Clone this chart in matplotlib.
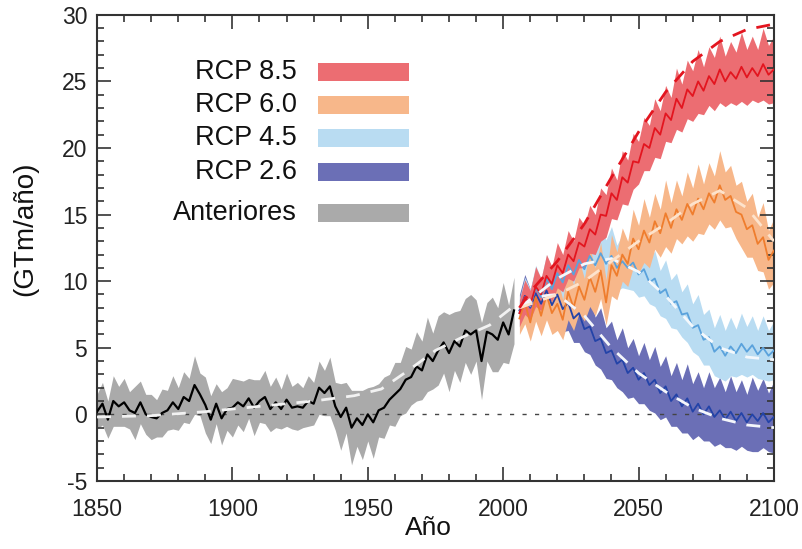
import numpy as np
import matplotlib
matplotlib.use("Agg")
import matplotlib.pyplot as plt
from matplotlib.patches import Rectangle
from matplotlib.ticker import MultipleLocator

plt.rcParams['font.family'] = ['Liberation Sans', 'DejaVu Sans']
plt.rcParams['axes.unicode_minus'] = False

# Emisiones históricas (cada 2 años)
hist_years = np.arange(1850, 2006, 2)
hist_mean = [0.2, 0.8, -0.4, 1.0, 0.6, 0.9, 0.3, 0.1, 0.9, 0.0,
             -0.2, -0.3, 0.1, 0.3, 0.9, 0.4, 1.3, 1.0, 2.2, 1.5,
             0.7, -0.4, 0.8, -0.3, 0.4, 0.5, 0.9, 0.6, 1.2, 0.5,
             1.0, 1.3, 0.4, 0.9, 0.4, 1.1, 0.5, 0.6, 0.5, 1.0,
             0.8, 2.0, 1.6, 2.1, 0.6, -0.2, 0.5, -1.0, -0.3, -0.8,
             0.0, -0.6, 0.3, 0.5, 1.1, 1.5, 1.9, 2.6, 2.8, 3.6,
             3.3, 4.5, 4.0, 4.8, 5.4, 4.6, 5.5, 5.1, 6.3, 6.0,
             6.3, 4.0, 6.2, 6.0, 5.6, 6.9, 6.0, 7.8]
hist_spread = [1.3, 1.6, 1.4, 1.9, 1.5, 1.8, 1.4, 2.0, 1.6, 1.5,
               1.7, 1.4, 1.8, 1.5, 2.0, 1.6, 1.9, 1.7, 2.2, 1.6,
               2.1, 1.8, 1.5, 2.0, 1.6, 2.2, 1.7, 1.9, 1.5, 2.1,
               1.6, 2.0, 1.7, 1.9, 1.5, 2.0, 1.6, 1.8, 1.5, 1.9,
               1.6, 2.0, 1.7, 2.2, 1.8, 2.5, 1.9, 2.8, 2.1, 2.6,
               2.0, 2.7, 2.0, 2.3, 1.9, 2.4, 2.0, 2.5, 2.1, 2.6,
               2.2, 2.8, 2.1, 2.6, 2.3, 2.9, 2.2, 2.7, 2.4, 3.0,
               2.3, 2.9, 2.2, 2.8, 2.4, 3.0, 2.2, 2.5]
hist_ref_years = [1850, 1870, 1890, 1910, 1930, 1945, 1955, 1965, 1975, 1985, 1995, 2005]
hist_ref = [-0.2, -0.1, 0.2, 0.6, 1.0, 1.4, 1.9, 3.3, 4.8, 5.8, 6.7, 8.3]

# Escenarios RCP (cada 2 años)
rcp_years = np.arange(2006, 2101, 2)

rcp85_mean = [7.6, 8.8, 8.2, 9.6, 9.0, 10.4, 9.8, 11.2, 10.6, 12.0,
              11.5, 12.9, 12.6, 13.9, 13.5, 15.0, 14.9, 16.6, 16.1, 17.8,
              17.4, 19.0, 18.9, 20.3, 20.0, 21.5, 21.0, 22.6, 22.1, 23.7,
              23.0, 24.4, 23.9, 25.0, 24.3, 25.4, 24.8, 25.9, 25.0, 25.7,
              25.2, 26.1, 25.3, 26.0, 25.4, 26.3, 25.5, 25.9]
rcp85_spread = [1.0, 1.3, 1.1, 1.5, 1.2, 1.6, 1.3, 1.7, 1.4, 1.8,
                1.5, 1.9, 1.6, 1.8, 1.5, 2.0, 1.6, 1.9, 1.5, 2.0,
                1.7, 2.1, 1.6, 2.0, 1.7, 2.2, 1.8, 2.1, 1.7, 2.3,
                1.8, 2.2, 1.9, 2.4, 1.8, 2.2, 2.0, 2.5, 1.9, 2.3,
                2.0, 2.6, 2.1, 2.4, 2.0, 2.7, 2.2, 2.5]

rcp60_mean = [7.2, 8.4, 6.9, 8.8, 7.4, 9.0, 7.6, 8.3, 7.1, 9.2,
              8.0, 9.6, 8.6, 10.3, 9.2, 10.8, 8.4, 11.2, 10.4, 12.0,
              11.3, 13.2, 12.4, 13.8, 12.9, 14.5, 13.6, 15.1, 14.0, 15.4,
              14.6, 15.8, 15.0, 16.2, 15.4, 16.6, 15.9, 17.2, 16.1, 16.4,
              15.2, 15.0, 13.9, 14.2, 12.8, 13.3, 11.6, 12.3]
rcp60_spread = [1.2, 1.6, 1.4, 1.8, 1.5, 1.9, 1.6, 2.0, 1.5, 2.1,
                1.7, 2.0, 1.6, 2.2, 1.8, 2.1, 1.7, 2.3, 1.8, 2.0,
                1.7, 2.2, 1.8, 2.4, 1.9, 2.1, 1.8, 2.5, 1.9, 2.2,
                1.8, 2.4, 2.0, 2.6, 1.9, 2.3, 2.0, 2.6, 2.1, 2.3,
                2.0, 2.5, 2.1, 2.4, 2.0, 2.6, 2.2, 2.4]

rcp45_mean = [7.6, 8.8, 8.1, 9.5, 8.8, 10.2, 9.4, 10.6, 9.9, 11.2,
              10.5, 11.6, 10.9, 11.9, 11.2, 12.1, 11.3, 11.9, 11.0, 11.5,
              11.0, 11.4, 10.5, 10.9, 9.9, 10.2, 9.1, 9.4, 8.3, 8.5,
              7.5, 7.6, 6.5, 6.7, 5.6, 5.8, 4.7, 5.1, 4.4, 5.1,
              4.6, 5.3, 4.7, 5.2, 4.5, 5.0, 4.4, 4.8]
rcp45_spread = [1.1, 1.5, 1.3, 1.7, 1.4, 1.8, 1.5, 1.9, 1.6, 2.0,
                1.7, 2.1, 1.8, 2.2, 1.7, 2.1, 1.8, 2.2, 1.7, 2.0,
                1.6, 2.1, 1.7, 2.0, 1.6, 2.1, 1.7, 2.2, 1.8, 2.1,
                1.7, 2.2, 1.8, 2.3, 1.9, 2.1, 1.8, 2.4, 1.9, 2.2,
                1.8, 2.3, 1.9, 2.2, 1.8, 2.4, 1.9, 2.2]

rcp26_mean = [7.8, 8.9, 8.0, 9.1, 8.3, 9.3, 8.2, 9.0, 7.9, 8.4,
              7.2, 7.6, 6.4, 6.6, 5.5, 5.7, 4.6, 4.8, 3.8, 4.1,
              3.1, 3.5, 2.6, 3.1, 2.2, 2.6, 1.6, 2.1, 1.0, 1.5,
              0.6, 1.2, 0.2, 0.8, 0.0, 0.6, -0.2, 0.3, -0.4, 0.2,
              -0.5, 0.1, -0.6, 0.0, -0.5, 0.1, -0.6, -0.2]
rcp26_spread = [1.2, 1.6, 1.4, 1.8, 1.5, 1.9, 1.6, 2.0, 1.7, 2.1,
                1.8, 2.2, 1.7, 2.1, 1.8, 2.3, 1.9, 2.2, 1.8, 2.4,
                1.9, 2.2, 1.8, 2.3, 1.9, 2.5, 2.0, 2.3, 1.9, 2.4,
                2.0, 2.6, 2.1, 2.4, 2.0, 2.6, 2.2, 2.5, 2.1, 2.7,
                2.2, 2.5, 2.1, 2.8, 2.3, 2.6, 2.2, 2.7]

# Trayectorias de referencia (discontinuas)
rcp85_ref_years = [2006, 2010, 2020, 2030, 2040, 2050, 2060, 2070, 2080, 2090, 2100]
rcp85_ref = [8.0, 9.2, 11.5, 14.3, 17.8, 21.2, 24.2, 26.5, 28.0, 28.9, 29.3]
rcp60_ref_years = [2006, 2020, 2030, 2040, 2050, 2060, 2070, 2080, 2090, 2100]
rcp60_ref = [8.0, 9.0, 10.0, 11.5, 13.0, 14.3, 15.8, 16.8, 15.5, 13.0]
rcp45_ref_years = [2006, 2020, 2030, 2040, 2050, 2060, 2070, 2080, 2090, 2100]
rcp45_ref = [8.0, 10.2, 11.3, 11.7, 10.7, 8.9, 6.6, 5.0, 4.3, 4.1]
rcp26_ref_years = [2006, 2015, 2020, 2030, 2040, 2050, 2060, 2070, 2080, 2090, 2100]
rcp26_ref = [8.0, 8.9, 9.0, 7.4, 5.0, 3.1, 1.7, 0.5, -0.3, -0.8, -1.0]

labels = ['RCP 8.5', 'RCP 6.0', 'RCP 4.5', 'RCP 2.6', 'Anteriores']
band_colors = ['#ec6d72', '#f7b78a', '#b9dcf2', '#6b6fb6', '#aaaaaa']
line_colors = ['#e3151f', '#ef7d2d', '#5aa2dc', '#2343a8', '#000000']
ref_colors = ['#e3151f', '#fde3cc', '#f4f8fc', '#f4f6fb', '#f2f2f2']

fig = plt.figure(figsize=(8.02, 5.49), dpi=100)
ax = fig.add_axes([0.121, 0.124, 0.844, 0.849])

dash = (0, (5, 4))

# Zona histórica
hm = np.array(hist_mean)
hs = np.array(hist_spread)
ax.fill_between(hist_years, hm - hs, hm + hs, color=band_colors[4], lw=0, zorder=1)
ax.axhline(0, color='#444444', lw=1, ls=(0, (3, 6)), zorder=2)
ax.plot(hist_years, hm, color=line_colors[4], lw=1.6, zorder=3)

# Escenarios: de menor a mayor
series = [
    (rcp26_mean, rcp26_spread, 3),
    (rcp45_mean, rcp45_spread, 2),
    (rcp60_mean, rcp60_spread, 1),
    (rcp85_mean, rcp85_spread, 0),
]
for mean, spread, i in series:
    m = np.array(mean)
    s = np.array(spread)
    ax.fill_between(rcp_years, m - s, m + s, color=band_colors[i], lw=0, zorder=1)
    ax.plot(rcp_years, m, color=line_colors[i], lw=1.3, zorder=3)

refs = [
    (hist_ref_years, hist_ref, 4),
    (rcp26_ref_years, rcp26_ref, 3),
    (rcp45_ref_years, rcp45_ref, 2),
    (rcp60_ref_years, rcp60_ref, 1),
    (rcp85_ref_years, rcp85_ref, 0),
]
for yrs, vals, i in refs:
    ax.plot(yrs, vals, color=ref_colors[i], lw=2, ls=dash, zorder=4)

# Leyenda hecha a mano
row_y = [0.878, 0.807, 0.736, 0.663, 0.575]
for lab, col, yy in zip(labels, band_colors, row_y):
    ax.text(0.295, yy, lab, transform=ax.transAxes, ha='right', va='center',
            fontsize=19.5, color='#111111')
    ax.add_patch(Rectangle((0.3265, yy - 0.019), 0.134, 0.038, transform=ax.transAxes,
                           facecolor=col, edgecolor='none', zorder=5))

ax.set_xlim(1850, 2100)
ax.set_ylim(-5, 30)
ax.xaxis.set_major_locator(MultipleLocator(50))
ax.xaxis.set_minor_locator(MultipleLocator(10))
ax.yaxis.set_major_locator(MultipleLocator(5))
ax.yaxis.set_minor_locator(MultipleLocator(1))
ax.tick_params(which='both', direction='in', top=True, right=True,
               color='#333333', width=1.2, labelsize=16.5, labelcolor='#222222')
ax.tick_params(which='major', length=10)
ax.tick_params(which='minor', length=5)
ax.tick_params(axis='x', which='major', pad=12)
ax.tick_params(axis='y', which='major', pad=7)
for sp in ax.spines.values():
    sp.set_color('#333333')
    sp.set_linewidth(1.5)

fig.text(428 / 802, 1 - 528 / 549, 'Año', fontsize=19, color='#111111',
         ha='center', va='center')
fig.text(25 / 802, 1 - 229 / 549, '(GTm/año)', fontsize=20, color='#111111',
         ha='center', va='center', rotation=90)

fig.savefig('out.png', dpi=100)
